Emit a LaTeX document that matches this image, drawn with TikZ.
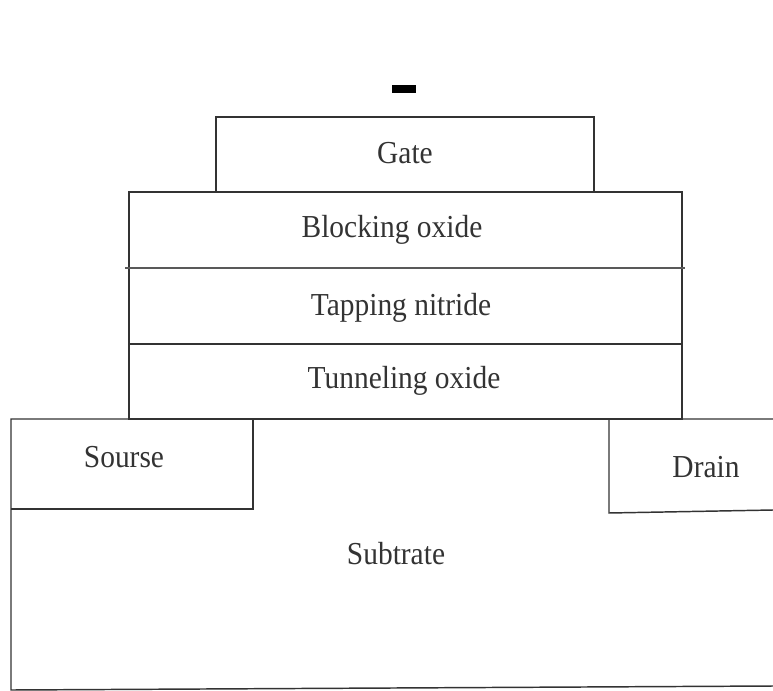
\documentclass[tikz,border=0pt]{standalone}
\usepackage{fontspec}
\setmainfont[FakeStretch=0.92]{Liberation Serif}

\tikzset{every picture/.style={line width=1.1pt}}
\tikzset{layertext/.style={anchor=base,inner sep=0.75pt,font=\fontsize{24}{28}\selectfont,text=black!80}}

\begin{document}
\begin{tikzpicture}[x=0.75pt,y=0.75pt,yscale=-1,xscale=1]
    \useasboundingbox (0,0) rectangle (773,691);

    %Shape: Rectangle [id:dp_minus] 
    \fill [black] (392,85) rectangle (416,93) ;
    %Shape: Rectangle [id:dp_gate] 
    \draw  [color=black!80] (216,117) rectangle (594,192) ;
    %Shape: Rectangle [id:dp_stack] 
    \draw  [color=black!80] (129,192) rectangle (682,419) ;
    %Straight Lines [id:da_blocking] 
    \draw  [color=black!65,line width=1.6pt]  (125,268) -- (685,268) ;
    %Straight Lines [id:da_nitride] 
    \draw  [color=black!80]  (129,344) -- (682,344) ;
    %Shape: Substrate [id:dp_substrate] 
    \draw  [color=black!80] (773,419) -- (11,419) -- (11,690) -- (773,686) ;
    %Shape: Rectangle [id:dp_source] 
    \draw  [color=black!80] (11,509) -- (253,509) -- (253,419) ;
    %Shape: Drain [id:dp_drain] 
    \draw  [color=black!80] (609,419) -- (609,513) -- (773,510) ;

    % Text Node
    \draw (405,164) node [layertext] (gate) {Gate};
    % Text Node
    \draw (392,238) node [layertext] (blocking) {Blocking oxide};
    % Text Node
    \draw (401,315) node [layertext] (nitride) {Tapping nitride};
    % Text Node
    \draw (404,388) node [layertext] (tunneling) {Tunneling oxide};
    % Text Node
    \draw (124,467) node [layertext] (source) {Sourse};
    % Text Node
    \draw (706,477) node [layertext] (drain) {Drain};
    % Text Node
    \draw (396,564) node [layertext] (substrate) {Subtrate};

\end{tikzpicture}
\end{document}
